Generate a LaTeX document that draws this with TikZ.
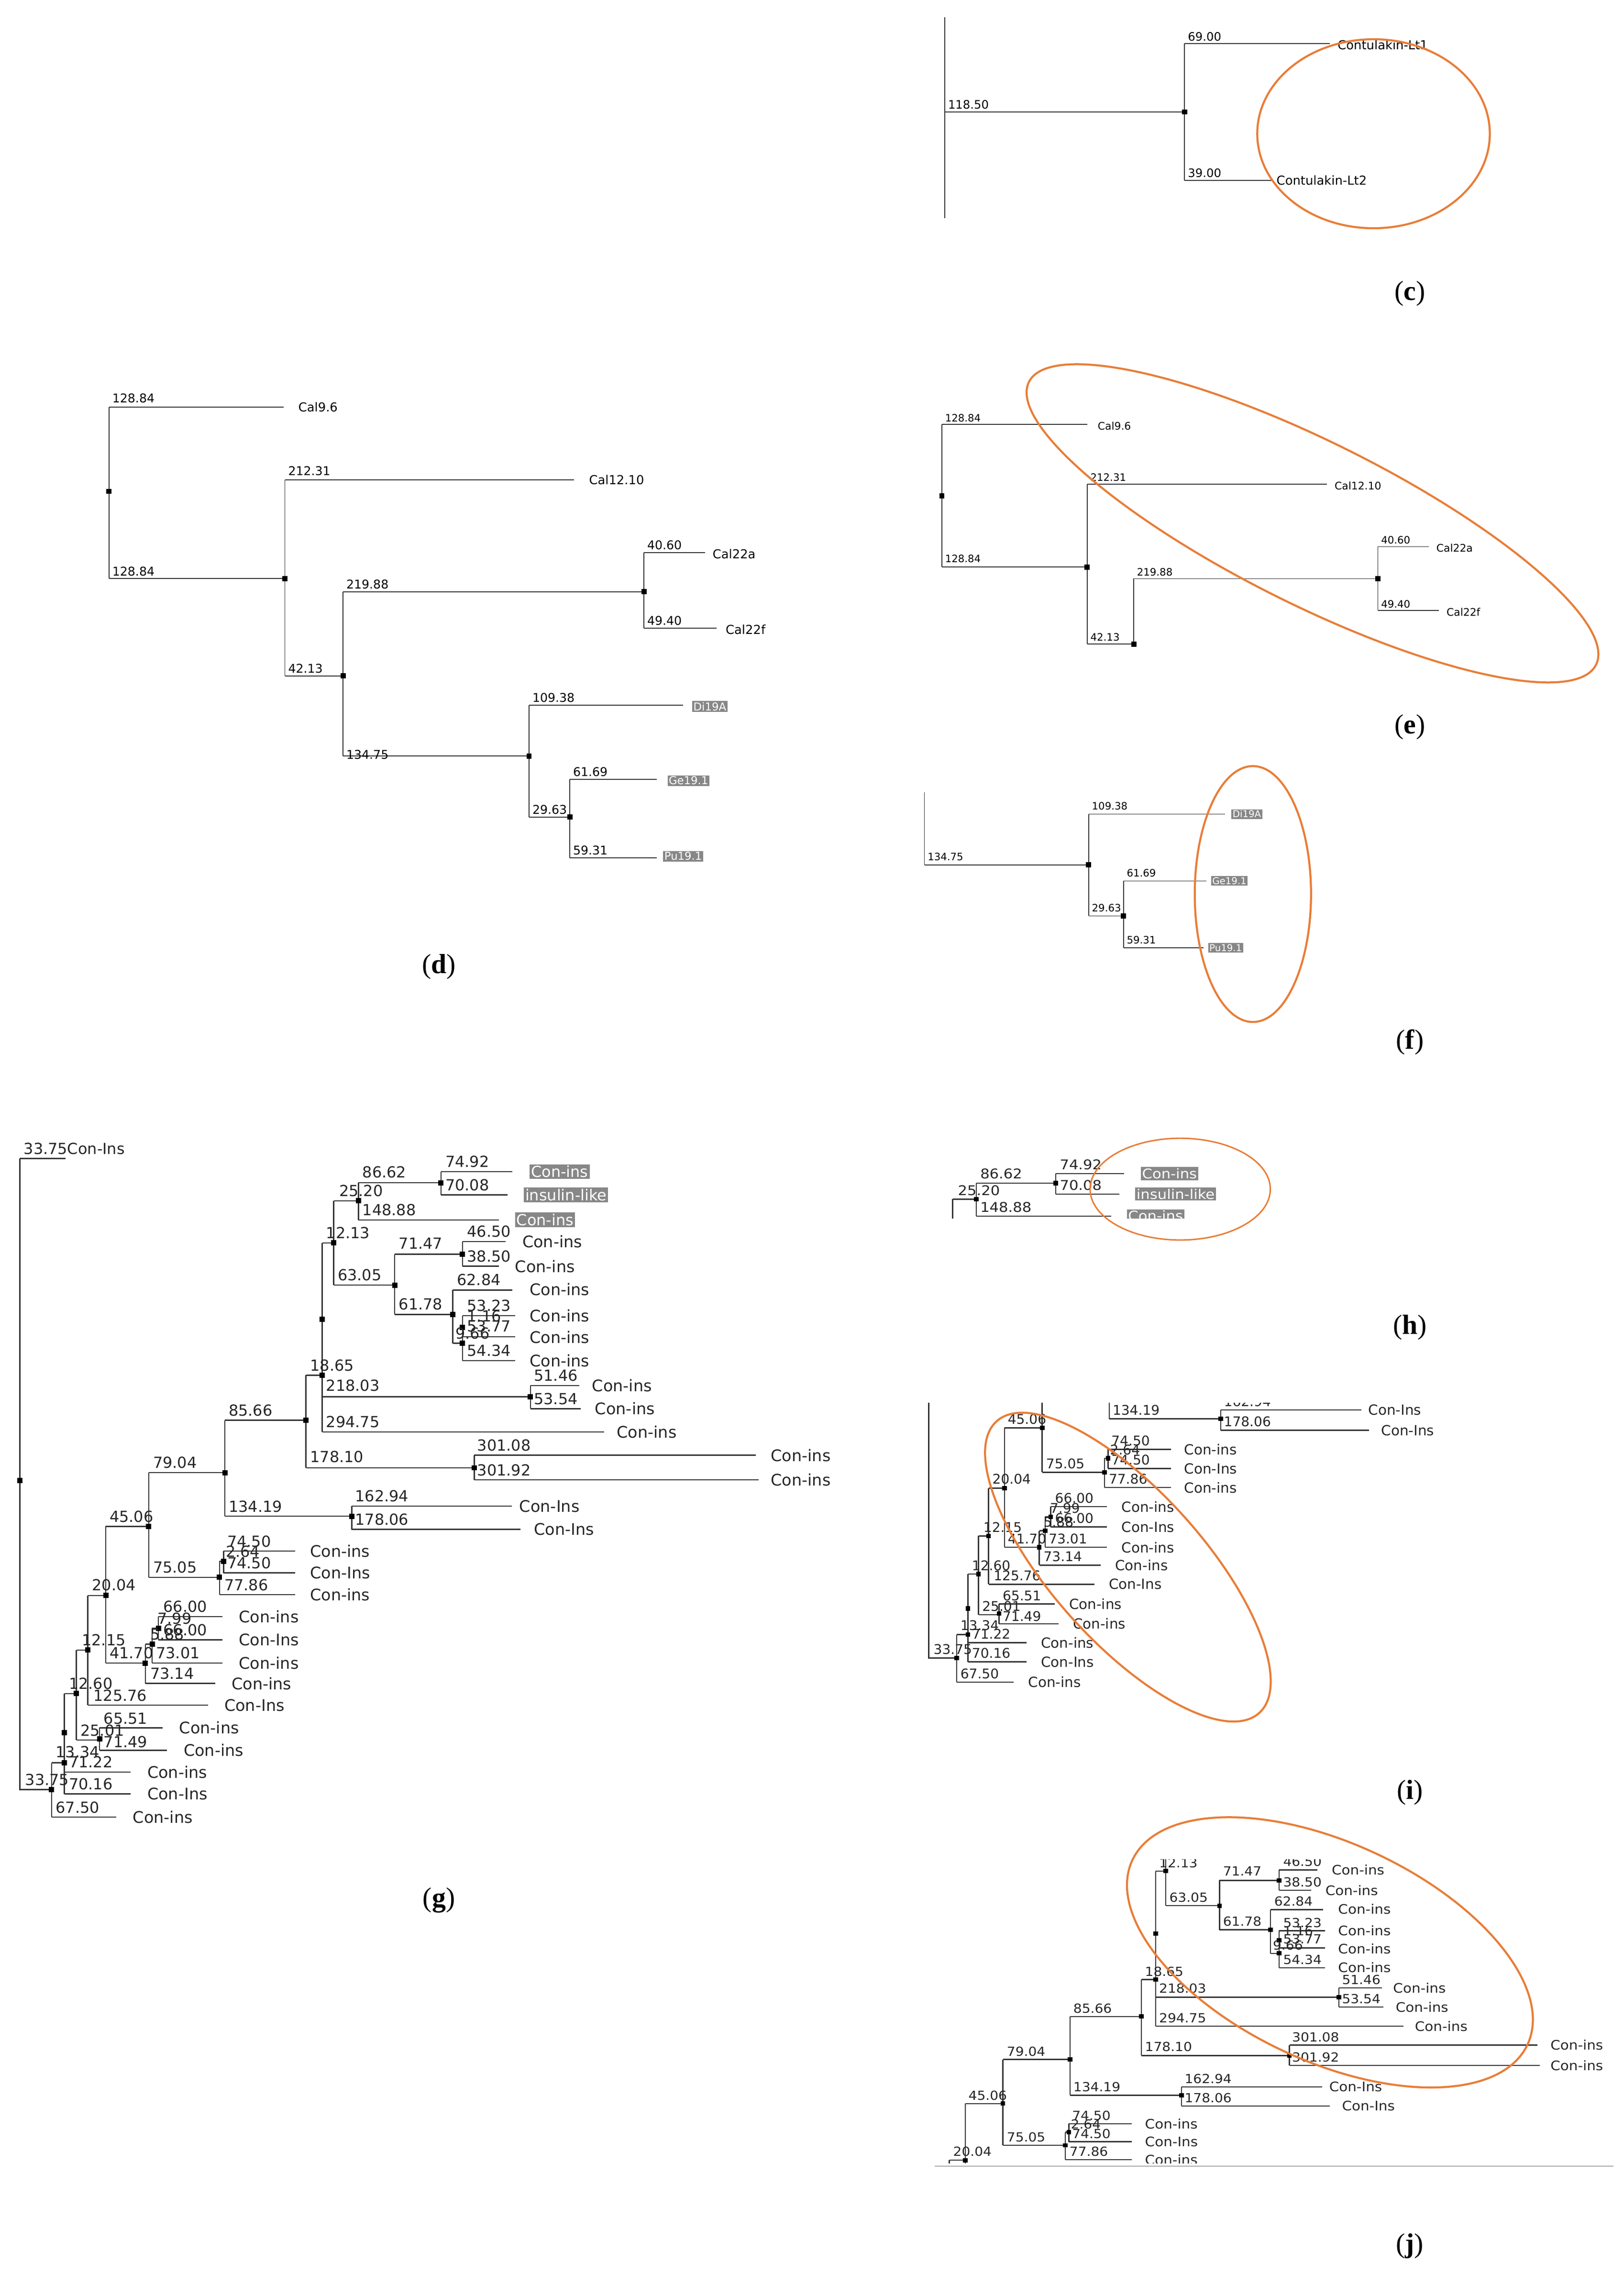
\documentclass[tikz,border=0pt]{standalone}
\usepackage{fontspec}
\setmainfont{Liberation Serif}
\newfontfamily\djv{DejaVu Sans}
\definecolor{orng}{RGB}{232,125,55}
\definecolor{hbg}{RGB}{135,135,135}
\newcommand\gl[3]{\node[num] at (#1,#2) {#3};}
\newcommand\gn[3]{\node[nm] at (#1,#2) {#3};}
\newcommand\gb[3]{\node[hb] at (#1,#2) {#3};}
\newcommand\dt[2]{\fill (#1-1.8,#2-1.8) rectangle (#1+1.8,#2+1.8);}
\newcommand\gtree{%
\draw (13.6,797)--(13.6,1231)--(35.5,1231); \draw (13.6,797)--(45,797);
\draw (35.5,1212.6)--(35.5,1250); \draw (35.5,1212.6)--(44.3,1212.6); \draw (35.5,1250)--(80,1250);
\draw (44.3,1165)--(44.3,1234); \draw (44.3,1165)--(52.5,1165); \draw (44.3,1219)--(90,1219); \draw (44.3,1234)--(90,1234);
\draw (52.5,1135)--(52.5,1197); \draw (52.5,1135)--(60.4,1135); \draw (52.5,1197)--(68.5,1197);
\draw (68.5,1188.5)--(68.5,1204); \draw (68.5,1188.5)--(112,1188.5); \draw (68.5,1204)--(115,1204);
\draw (60.4,1097.5)--(60.4,1173); \draw (60.4,1097.5)--(72.8,1097.5); \draw (60.4,1173)--(143,1173);
\draw (72.8,1050)--(72.8,1144); \draw (72.8,1050)--(102.3,1050); \draw (72.8,1144)--(100,1144);
\draw (100,1131)--(100,1158); \draw (100,1131)--(104.7,1131); \draw (100,1158)--(148,1158);
\draw (104.7,1120)--(104.7,1144); \draw (104.7,1120)--(109,1120); \draw (104.7,1144)--(153,1144);
\draw (109,1112)--(109,1128); \draw (109,1112)--(153,1112); \draw (109,1128)--(153,1128);
\draw (102.3,1013)--(102.3,1085); \draw (102.3,1013)--(154.7,1013); \draw (102.3,1085)--(151,1085);
\draw (151,1074)--(151,1097); \draw (151,1074)--(153.8,1074); \draw (151,1097)--(203,1097);
\draw (153.8,1067)--(153.8,1082); \draw (153.8,1067)--(203,1067); \draw (153.8,1082)--(203,1082);
\draw (154.7,977)--(154.7,1043); \draw (154.7,977)--(210.5,977); \draw (154.7,1043)--(242,1043);
\draw (242,1036)--(242,1052); \draw (242,1036)--(352,1036); \draw (242,1052)--(358,1052);
\draw (210.5,946)--(210.5,1009.7); \draw (210.5,946)--(221.7,946); \draw (210.5,1009.7)--(326.3,1009.7);
\draw (326.3,1001)--(326.3,1018); \draw (326.3,1001)--(520,1001); \draw (326.3,1018)--(522,1018);
\draw (221.7,855)--(221.7,985); \draw (221.7,855)--(229.6,855); \draw (221.7,960.8)--(364.9,960.8); \draw (221.7,985)--(415.5,985);
\draw (364.9,953)--(364.9,969); \draw (364.9,953)--(398.7,953); \draw (364.9,969)--(399.6,969);
\draw (229.6,826)--(229.6,884); \draw (229.6,826)--(246.6,826); \draw (229.6,884)--(271.6,884);
\draw (246.6,813.6)--(246.6,839.2); \draw (246.6,813.6)--(303.4,813.6); \draw (246.6,839.2)--(343.4,839.2);
\draw (303.4,806)--(303.4,822); \draw (303.4,806)--(352.6,806); \draw (303.4,822)--(349.2,822);
\draw (271.6,862.8)--(271.6,904.2); \draw (271.6,862.8)--(318.2,862.8); \draw (271.6,904.2)--(311.5,904.2);
\draw (318.2,854)--(318.2,871); \draw (318.2,854)--(348,854); \draw (318.2,871)--(343.4,871);
\draw (311.5,887.4)--(311.5,924); \draw (311.5,887.4)--(352.6,887.4); \draw (311.5,924)--(318.2,924);
\draw (318.2,905)--(318.2,936); \draw (318.2,905)--(354.3,905); \draw (318.2,919.5)--(354.3,919.5); \draw (318.2,936)--(354.3,936);
\dt{13.6}{1018.5}\dt{35.5}{1231}\dt{44.3}{1212.6}\dt{44.3}{1192}\dt{52.5}{1165}\dt{60.4}{1135}\dt{68.5}{1196}\dt{72.8}{1097.5}\dt{100}{1144}\dt{104.7}{1131}\dt{109}{1120}\dt{102.3}{1050}\dt{151}{1085}\dt{153.8}{1074}\dt{154.7}{1013}\dt{242}{1043}\dt{210.5}{977}\dt{326.3}{1009.7}\dt{221.7}{946}\dt{221.7}{907.5}\dt{364.9}{960.8}\dt{229.6}{855}\dt{246.6}{826}\dt{303.4}{813.6}\dt{271.6}{884}\dt{318.2}{862.8}\dt{311.5}{904.2}\dt{318.2}{913}\dt{318.2}{924}
\gl{16}{794}{33.75}\gl{17}{1228}{33.75}\gl{38}{1209}{13.34}\gl{38}{1247}{67.50}\gl{47}{1162}{12.60}\gl{47}{1216}{71.22}\gl{47}{1231}{70.16}\gl{56}{1132}{12.15}\gl{55}{1194}{25.01}\gl{71}{1186}{65.51}\gl{71}{1202}{71.49}\gl{63}{1094}{20.04}\gl{64}{1170}{125.76}\gl{75}{1047}{45.06}\gl{75}{1141}{41.70}\gl{103}{1128}{5.88}\gl{103}{1155}{73.14}\gl{108}{1117}{7.99}\gl{107}{1141}{73.01}\gl{112}{1109}{66.00}\gl{112}{1125}{66.00}\gl{105}{1010}{79.04}\gl{105}{1082}{75.05}\gl{155}{1071}{2.64}\gl{156}{1064}{74.50}\gl{156}{1079}{74.50}\gl{154}{1094}{77.86}\gl{157}{1040}{134.19}\gl{244}{1033}{162.94}\gl{244}{1049}{178.06}\gl{157}{974}{85.66}\gl{213}{1006}{178.10}\gl{328}{998}{301.08}\gl{328}{1015}{301.92}\gl{213}{943}{18.65}\gl{224}{957}{218.03}\gl{224}{982}{294.75}\gl{367}{950}{51.46}\gl{367}{966}{53.54}\gl{224}{852}{12.13}\gl{232}{881}{63.05}\gl{233}{823}{25.20}\gl{249}{810}{86.62}\gl{249}{836}{148.88}\gl{306}{803}{74.92}\gl{306}{819}{70.08}\gl{274}{859}{71.47}\gl{274}{901}{61.78}\gl{321}{851}{46.50}\gl{321}{868}{38.50}\gl{314}{884}{62.84}\gl{321}{902}{53.23}\gl{321}{909}{1.16}\gl{321}{916}{53.77}\gl{313}{921}{9.66}\gl{321}{933}{54.34}
\node[num] at (46,794) {Con-Ins};
\gn{91}{1250}{Con-ins}\gn{101}{1219}{Con-ins}\gn{101}{1234}{Con-Ins}\gn{123}{1188.5}{Con-ins}\gn{126}{1204}{Con-ins}\gn{154}{1173}{Con-Ins}\gn{164}{1112}{Con-ins}\gn{164}{1128}{Con-Ins}\gn{164}{1144}{Con-ins}\gn{159}{1158}{Con-ins}\gn{213}{1067}{Con-ins}\gn{213}{1082}{Con-Ins}\gn{213}{1097}{Con-ins}\gn{357}{1036}{Con-Ins}\gn{367}{1052}{Con-Ins}\gn{530}{1001}{Con-ins}\gn{530}{1018}{Con-ins}\gn{407}{953}{Con-ins}\gn{409}{969}{Con-ins}\gn{424}{985}{Con-ins}\gn{359}{854}{Con-ins}\gn{354}{871}{Con-ins}\gn{364}{887}{Con-ins}\gn{364}{905}{Con-ins}\gn{364}{920}{Con-ins}\gn{364}{936}{Con-ins}
\gb{354}{839}{Con-ins}\gb{364}{806}{Con-ins}\gb{360}{822}{insulin-like}%
}
\begin{document}
\begin{tikzpicture}[x=1pt,y=-1pt,line width=0.8pt, draw=black!80,
  num/.style={anchor=base west,inner sep=0pt,font=\djv\fontsize{10.5}{11}\selectfont,text=black!85},
  nm/.style={anchor=west,inner sep=0pt,font=\djv\fontsize{11}{12}\selectfont,text=black!85},
  hb/.style={anchor=west,inner sep=1pt,fill=hbg,text=white,font=\djv\fontsize{10.5}{11}\selectfont},
  pl/.style={font=\fontsize{19}{22}\selectfont},
  oe/.style={draw=orng,line width=1.4pt}]
\useasboundingbox (0,0) rectangle (1117,1579.4);
\fill[white] (0,0) rectangle (1117,1579.4);
% ---------- panel c
\begin{scope}[line width=0.6pt,num/.style={anchor=base west,inner sep=0pt,font=\djv\fontsize{8}{9}\selectfont},
  nm/.style={anchor=west,inner sep=0pt,font=\djv\fontsize{8.5}{9}\selectfont}]
\draw (650,12)--(650,150); \draw (650,77)--(815,77); \draw (815,30)--(815,124);
\draw (815,30)--(915,30); \draw (815,124)--(875,124); \dt{815}{77}
\gl{652}{75}{118.50}\gl{817}{28}{69.00}\gl{817}{122}{39.00}
\gn{920}{31}{Contulakin-Lt1}\gn{878}{124}{Contulakin-Lt2}
\end{scope}
\draw[oe] (945,92) ellipse [x radius=80,y radius=65];
\node[pl] at (970,202) {(\textbf{c})};
% ---------- panel d
\begin{scope}[line width=0.6pt,num/.style={anchor=base west,inner sep=0pt,font=\djv\fontsize{8.3}{9}\selectfont},
  nm/.style={anchor=west,inner sep=0pt,font=\djv\fontsize{8.5}{9}\selectfont},
  hb/.style={anchor=west,inner sep=0.8pt,fill=hbg,text=white,font=\djv\fontsize{7.5}{8}\selectfont}]
\draw (75,280)--(75,398); \draw (75,280)--(195,280); \draw (75,398)--(196,398);
\draw (196,330)--(196,465); \draw (196,330)--(395,330); \draw (196,465)--(236,465);
\draw (236,407)--(236,520); \draw (236,407)--(443,407); \draw (443,380)--(443,432);
\draw (443,380)--(485,380); \draw (443,432)--(493,432); \draw (236,520)--(364,520);
\draw (364,485)--(364,562); \draw (364,485)--(470,485); \draw (364,562)--(392,562);
\draw (392,536)--(392,590); \draw (392,536)--(452,536); \draw (392,590)--(452,590);
\dt{75}{338}\dt{196}{398}\dt{236}{465}\dt{443}{407}\dt{364}{520}\dt{392}{562}
\gl{77}{277}{128.84}\gl{77}{396}{128.84}\gl{198}{327}{212.31}\gl{198}{463}{42.13}\gl{238}{405}{219.88}
\gl{445}{378}{40.60}\gl{445}{430}{49.40}\gl{238}{522}{134.75}\gl{366}{483}{109.38}\gl{366}{560}{29.63}
\gl{394}{534}{61.69}\gl{394}{588}{59.31}
\gn{205}{280}{Cal9.6}\gn{405}{330}{Cal12.10}\gn{490}{381}{Cal22a}\gn{499}{433}{Cal22f}
\gb{476}{486}{Di19A}\gb{459}{537}{Ge19.1}\gb{456}{589}{Pu19.1}
\end{scope}
\node[pl] at (302,665) {(\textbf{d})};
% ---------- panel e
\begin{scope}[line width=0.5pt,num/.style={anchor=base west,inner sep=0pt,font=\djv\fontsize{7}{8}\selectfont},
  nm/.style={anchor=west,inner sep=0pt,font=\djv\fontsize{7.2}{8}\selectfont}]
\draw (648,292)--(648,390); \draw (648,292)--(748,292); \draw (648,390)--(748,390);
\draw (748,333)--(748,443); \draw (748,333)--(913,333); \draw (748,443)--(780,443);
\draw (780,398)--(780,443); \draw (780,398)--(948,398); \draw (948,376)--(948,420);
\draw (948,376)--(983,376); \draw (948,420)--(990,420);
\dt{648}{341}\dt{748}{390}\dt{780}{443}\dt{948}{398}
\gl{650}{290}{128.84}\gl{650}{387}{128.84}\gl{750}{331}{212.31}\gl{750}{441}{42.13}\gl{782}{396}{219.88}
\gl{950}{374}{40.60}\gl{950}{418}{49.40}
\gn{755}{293}{Cal9.6}\gn{918}{334}{Cal12.10}\gn{988}{377}{Cal22a}\gn{995}{421}{Cal22f}
\end{scope}
\draw[oe,rotate around={-26.5:(903,360)}] (903,360) ellipse [x radius=218,y radius=56];
\node[pl] at (970,500) {(\textbf{e})};
% ---------- panel f
\begin{scope}[line width=0.5pt,num/.style={anchor=base west,inner sep=0pt,font=\djv\fontsize{7}{8}\selectfont},
  hb/.style={anchor=west,inner sep=0.8pt,fill=hbg,text=white,font=\djv\fontsize{6.5}{7}\selectfont}]
\draw (636,545)--(636,595); \draw (636,595)--(749,595); \draw (749,560)--(749,630);
\draw (749,560)--(843,560); \draw (749,630)--(773,630); \draw (773,606)--(773,652);
\draw (773,606)--(830,606); \draw (773,652)--(828,652);
\dt{749}{595}\dt{773}{630}
\gl{638}{592}{134.75}\gl{751}{557}{109.38}\gl{751}{627}{29.63}\gl{775}{603}{61.69}\gl{775}{649}{59.31}
\gb{847}{560}{Di19A}\gb{833}{606}{Ge19.1}\gb{831}{652}{Pu19.1}
\end{scope}
\draw[oe] (862,615) ellipse [x radius=40,y radius=88];
\node[pl] at (970,717) {(\textbf{f})};
% ---------- panel g
\gtree
\node[pl] at (302,1307) {(\textbf{g})};
% ---------- panel h
\begin{scope}
\clip (648,790) rectangle (880,838);
\begin{scope}[shift={(435,98)},xscale=0.96,yscale=0.88,transform shape]
\gtree
\end{scope}
\end{scope}
\draw[oe,line width=1pt] (812,818) ellipse [x radius=62,y radius=35];
\node[pl] at (970,913) {(\textbf{h})};
% ---------- panel i
\begin{scope}
\clip (630,965) rectangle (1000,1166);
\begin{scope}[shift={(627,63.4)},xscale=0.88,yscale=0.875,transform shape]
\gtree
\end{scope}
\end{scope}
\draw[oe,rotate around={-48:(776,1078)}] (776,1078) ellipse [x radius=135,y radius=52];
\node[pl] at (970,1233) {(\textbf{i})};
% ---------- panel j
\begin{scope}
\clip (645,1279) rectangle (1112,1488);
\begin{scope}[shift={(600,586)},xscale=0.88,yscale=0.82,transform shape]
\gtree
\end{scope}
\end{scope}
\draw[black!60,line width=0.6pt] (643,1490)--(1110,1490);
\draw[oe,rotate around={-25:(915,1343)}] (915,1343) ellipse [x radius=150,y radius=75];
\node[pl] at (970,1545) {(\textbf{j})};
\end{tikzpicture}
\end{document}
